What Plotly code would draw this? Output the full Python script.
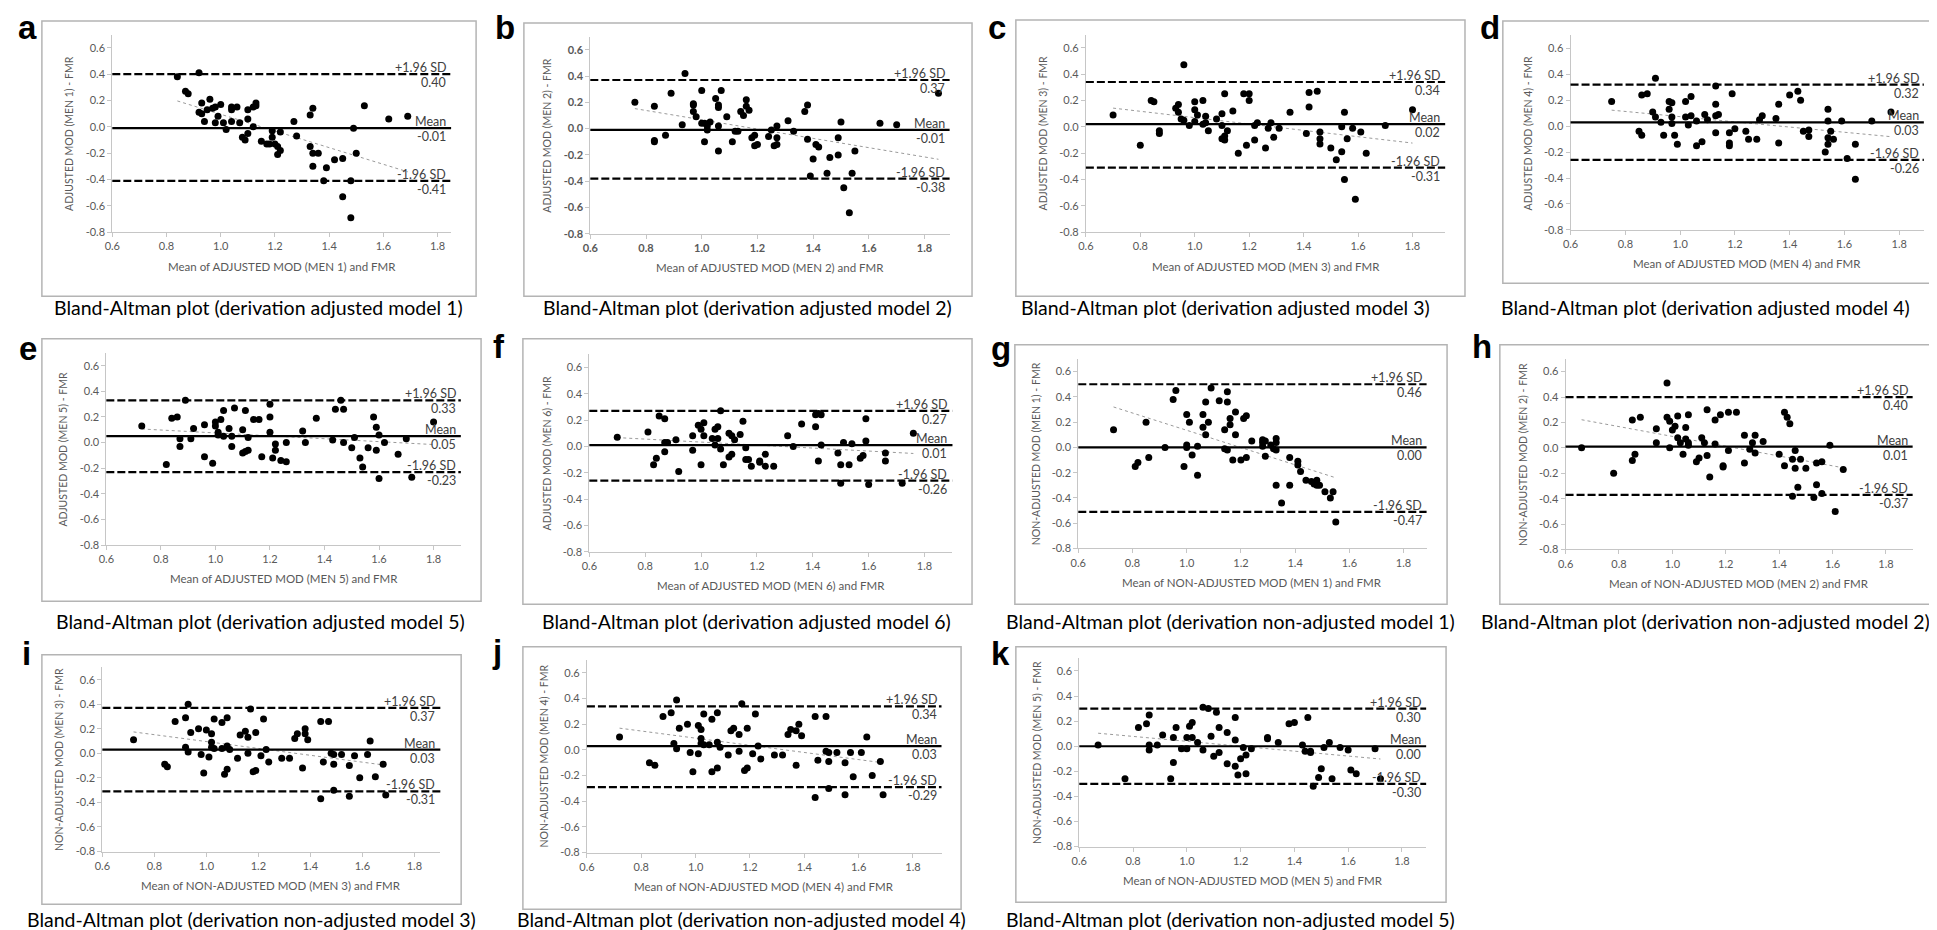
import numpy as np
import plotly.graph_objects as go

W, H = 1937, 930

# ---- data: (mean of methods, difference) ----
a_pts = [(0.84, 0.38), (0.92, 0.41), (0.87, 0.27), (0.88, 0.25), (0.92, 0.11), (0.93, 0.10), (0.93, 0.18),
         (0.94, 0.04), (0.95, 0.13), (0.96, 0.21), (0.97, 0.14), (0.98, 0.15), (1.00, 0.17), (0.99, 0.08),
         (0.98, 0.03), (1.01, 0.03), (1.02, -0.02), (1.04, 0.13), (1.04, 0.15), (1.04, 0.04), (1.06, 0.15),
         (1.07, 0.03), (1.08, -0.08), (1.09, -0.10), (1.10, 0.13), (1.10, 0.06), (1.10, -0.05), (1.12, 0.15),
         (1.13, 0.18), (1.13, 0.16), (1.12, 0.00), (1.15, -0.11), (1.17, -0.13), (1.18, -0.13), (1.19, -0.03),
         (1.19, -0.08), (1.20, -0.13), (1.21, -0.21), (1.21, -0.15), (1.22, -0.18), (1.22, -0.04), (1.27, 0.04),
         (1.28, -0.07), (1.33, 0.09), (1.34, 0.14), (1.33, -0.15), (1.34, -0.30), (1.34, -0.20), (1.36, -0.20),
         (1.38, -0.41), (1.39, -0.31), (1.42, -0.25), (1.45, -0.24), (1.45, -0.53), (1.48, -0.41), (1.49, -0.01),
         (1.50, -0.20), (1.48, -0.69), (1.53, 0.16), (1.62, 0.06), (1.69, 0.08)]
b_pts = [(0.76, 0.20), (0.83, 0.17), (0.83, -0.09), (0.83, -0.10), (0.87, -0.05), (0.89, 0.27), (0.93, 0.03),
         (0.94, 0.42), (0.97, 0.19), (0.97, 0.18), (0.97, 0.13), (0.98, 0.09), (1.00, 0.04), (1.00, 0.29),
         (1.01, 0.04), (1.01, -0.10), (1.02, -0.01), (1.03, 0.05), (1.02, 0.02), (1.05, 0.23), (1.06, 0.18),
         (1.06, 0.16), (1.06, 0.02), (1.06, -0.17), (1.07, 0.29), (1.09, 0.09), (1.11, -0.10), (1.12, -0.02),
         (1.13, -0.02), (1.14, 0.13), (1.15, 0.10), (1.16, 0.22), (1.16, 0.17), (1.17, 0.14), (1.19, -0.05),
         (1.18, -0.07), (1.19, -0.13), (1.20, -0.12), (1.24, -0.06), (1.25, -0.01), (1.26, -0.13), (1.27, -0.12),
         (1.27, 0.02), (1.27, -0.07), (1.31, 0.06), (1.33, -0.02), (1.37, 0.13), (1.38, 0.18), (1.38, -0.08),
         (1.39, -0.36), (1.40, -0.23), (1.41, -0.12), (1.42, -0.14), (1.45, -0.34), (1.46, -0.22), (1.49, -0.20),
         (1.49, -0.07), (1.50, 0.05), (1.51, -0.45), (1.54, -0.34), (1.55, -0.17), (1.53, -0.64), (1.64, 0.04),
         (1.70, 0.03), (1.85, 0.27)]
c_pts = [(0.70, 0.09), (0.80, -0.14), (0.84, 0.20), (0.85, 0.19), (0.87, -0.03), (0.87, -0.05), (0.93, 0.14),
         (0.94, 0.17), (0.94, 0.11), (0.95, 0.06), (0.96, 0.05), (0.96, 0.47), (0.98, 0.01), (1.00, 0.19),
         (1.00, 0.13), (1.00, 0.04), (1.01, 0.09), (1.03, 0.02), (1.03, 0.20), (1.04, 0.08), (1.04, 0.03),
         (1.05, -0.03), (1.08, 0.06), (1.10, 0.10), (1.10, 0.01), (1.10, -0.09), (1.11, -0.10), (1.11, -0.07),
         (1.11, 0.25), (1.12, -0.03), (1.14, 0.12), (1.16, -0.20), (1.18, 0.25), (1.19, -0.14), (1.20, 0.25),
         (1.20, 0.20), (1.22, -0.10), (1.22, 0.01), (1.23, 0.03), (1.26, -0.16), (1.27, -0.01), (1.28, 0.03),
         (1.29, -0.08), (1.31, -0.01), (1.35, 0.11), (1.41, -0.05), (1.42, 0.26), (1.42, 0.15), (1.45, 0.27),
         (1.46, -0.09), (1.46, -0.04), (1.46, -0.13), (1.50, -0.16), (1.52, -0.25), (1.54, -0.19), (1.55, 0.11),
         (1.54, 0.00), (1.55, -0.40), (1.56, -0.09), (1.58, -0.01), (1.59, -0.55), (1.61, -0.04), (1.63, -0.20),
         (1.70, 0.01), (1.80, 0.13)]
d_pts = [(0.75, 0.19), (0.85, -0.04), (0.86, -0.07), (0.86, 0.24), (0.88, 0.25), (0.90, 0.11), (0.91, 0.37),
         (0.91, 0.07), (0.93, 0.03), (0.94, -0.07), (0.96, 0.19), (0.96, 0.13), (0.97, 0.07), (0.97, 0.18),
         (0.97, 0.02), (0.98, -0.07), (0.99, -0.14), (1.02, 0.07), (1.02, 0.19), (1.03, 0.01), (1.04, 0.08),
         (1.04, 0.23), (1.06, 0.04), (1.06, -0.15), (1.08, -0.12), (1.09, 0.09), (1.10, 0.05), (1.13, -0.05),
         (1.13, 0.17), (1.13, 0.31), (1.13, 0.08), (1.14, 0.09), (1.18, -0.15), (1.18, -0.13), (1.18, -0.05),
         (1.19, 0.25), (1.20, -0.02), (1.24, -0.04), (1.25, -0.10), (1.28, -0.10), (1.29, 0.05), (1.30, 0.08),
         (1.35, 0.06), (1.36, -0.13), (1.36, 0.17), (1.40, 0.24), (1.43, 0.27), (1.44, 0.20), (1.45, -0.04),
         (1.47, -0.03), (1.47, -0.08), (1.53, -0.20), (1.54, 0.13), (1.54, 0.04), (1.54, -0.09), (1.54, -0.14),
         (1.55, -0.04), (1.56, -0.10), (1.59, 0.04), (1.61, -0.25), (1.64, -0.14), (1.64, -0.41), (1.70, 0.04),
         (1.77, 0.11)]
e_pts = [(0.73, 0.13), (0.82, -0.17), (0.84, 0.19), (0.86, 0.20), (0.87, -0.03), (0.87, 0.03), (0.89, 0.33),
         (0.91, 0.03), (0.92, 0.11), (0.96, 0.14), (0.96, -0.11), (0.99, -0.16), (1.00, 0.13), (1.00, 0.16),
         (1.01, 0.08), (1.01, 0.06), (1.02, 0.18), (1.03, 0.05), (1.03, 0.25), (1.05, 0.11), (1.06, 0.05),
         (1.06, -0.03), (1.07, 0.27), (1.10, 0.10), (1.10, -0.08), (1.11, 0.25), (1.11, -0.07), (1.12, -0.06),
         (1.12, 0.04), (1.14, 0.18), (1.16, 0.18), (1.17, -0.11), (1.20, 0.30), (1.20, 0.20), (1.20, 0.08),
         (1.21, -0.12), (1.22, -0.01), (1.22, -0.06), (1.24, -0.14), (1.26, -0.15), (1.26, 0.00), (1.32, 0.09),
         (1.33, 0.00), (1.37, 0.19), (1.43, 0.02), (1.44, 0.26), (1.46, 0.33), (1.47, 0.26), (1.47, 0.00),
         (1.50, -0.04), (1.51, 0.04), (1.53, -0.12), (1.54, -0.19), (1.56, -0.04), (1.58, 0.20), (1.59, 0.12),
         (1.59, -0.06), (1.60, 0.06), (1.60, -0.28), (1.62, 0.00), (1.67, -0.09), (1.70, 0.03), (1.72, -0.27),
         (1.80, 0.16)]
f_pts = [(0.70, 0.07), (0.81, 0.11), (0.83, -0.14), (0.84, -0.09), (0.85, 0.23), (0.87, 0.21), (0.87, 0.03),
         (0.87, -0.04), (0.88, 0.03), (0.91, 0.05), (0.92, -0.19), (0.97, -0.03), (0.97, 0.08), (0.99, 0.16),
         (1.00, -0.14), (1.00, 0.13), (1.01, 0.18), (1.01, 0.08), (1.04, 0.06), (1.05, 0.01), (1.05, 0.13),
         (1.06, 0.15), (1.06, 0.06), (1.07, -0.02), (1.07, 0.27), (1.08, -0.14), (1.10, -0.08), (1.10, 0.10),
         (1.11, 0.08), (1.11, -0.06), (1.12, 0.05), (1.14, 0.09), (1.15, 0.19), (1.16, -0.01), (1.16, -0.10),
         (1.17, -0.10), (1.18, -0.15), (1.21, -0.11), (1.21, -0.12), (1.23, -0.06), (1.23, -0.15), (1.26, -0.15),
         (1.31, 0.08), (1.33, 0.00), (1.36, 0.17), (1.41, 0.15), (1.41, 0.24), (1.42, 0.25), (1.43, 0.24),
         (1.42, -0.11), (1.43, 0.01), (1.49, -0.05), (1.50, -0.28), (1.50, -0.14), (1.51, 0.03), (1.53, -0.14),
         (1.54, 0.02), (1.57, -0.09), (1.58, -0.07), (1.59, 0.21), (1.59, 0.04), (1.60, -0.29), (1.66, -0.05),
         (1.66, -0.11), (1.72, -0.28), (1.76, 0.10)]
g_pts = [(0.73, 0.14), (0.81, -0.15), (0.82, -0.12), (0.85, 0.20), (0.86, -0.08), (0.92, 0.00), (0.95, 0.38),
         (0.96, 0.45), (0.99, -0.15), (1.00, 0.26), (1.00, 0.02), (1.00, 0.00), (1.01, 0.20), (1.02, -0.06),
         (1.04, -0.22), (1.04, 0.01), (1.06, 0.16), (1.06, 0.26), (1.07, 0.36), (1.07, 0.10), (1.08, 0.20),
         (1.09, 0.47), (1.12, 0.37), (1.14, 0.14), (1.14, -0.01), (1.15, -0.02), (1.15, 0.44), (1.15, 0.36),
         (1.16, 0.18), (1.16, 0.23), (1.17, -0.10), (1.18, 0.28), (1.18, 0.10), (1.20, -0.10), (1.21, 0.23),
         (1.22, 0.25), (1.22, -0.08), (1.24, 0.05), (1.28, 0.06), (1.28, 0.01), (1.28, 0.04), (1.29, 0.05),
         (1.29, -0.07), (1.31, 0.02), (1.32, -0.01), (1.33, 0.07), (1.33, 0.04), (1.33, -0.02), (1.33, -0.30),
         (1.35, -0.44), (1.38, -0.30), (1.38, -0.08), (1.41, -0.11), (1.41, -0.14), (1.42, -0.19), (1.44, -0.26),
         (1.46, -0.27), (1.47, -0.29), (1.48, -0.30), (1.48, -0.26), (1.49, -0.30), (1.51, -0.35), (1.54, -0.35),
         (1.53, -0.40), (1.55, -0.59)]
h_pts = [(0.66, 0.00), (0.78, -0.20), (0.85, -0.10), (0.85, 0.22), (0.86, -0.05), (0.88, 0.24), (0.94, 0.15),
         (0.94, 0.04), (0.98, 0.51), (0.98, 0.24), (0.99, 0.21), (0.99, 0.00), (1.00, 0.14), (1.01, 0.17),
         (1.02, 0.08), (1.02, 0.25), (1.03, 0.04), (1.04, -0.05), (1.05, 0.16), (1.05, 0.07), (1.06, 0.04),
         (1.06, 0.26), (1.06, 0.02), (1.09, -0.11), (1.10, -0.08), (1.11, 0.08), (1.12, 0.04), (1.13, -0.06),
         (1.13, 0.30), (1.14, -0.23), (1.16, 0.22), (1.16, 0.03), (1.18, 0.26), (1.19, -0.14), (1.19, -0.15),
         (1.21, -0.02), (1.21, 0.28), (1.24, 0.28), (1.27, 0.10), (1.27, -0.12), (1.29, -0.01), (1.30, 0.04),
         (1.31, -0.04), (1.31, 0.10), (1.34, 0.05), (1.40, -0.05), (1.42, 0.28), (1.42, -0.14), (1.43, 0.24),
         (1.44, 0.19), (1.45, -0.38), (1.45, -0.09), (1.46, -0.16), (1.46, -0.02), (1.47, -0.31), (1.48, -0.09),
         (1.50, -0.16), (1.53, -0.39), (1.54, -0.12), (1.54, -0.29), (1.56, -0.11), (1.56, -0.36), (1.59, 0.02),
         (1.61, -0.50), (1.64, -0.17)]
i_pts = [(0.72, 0.11), (0.84, -0.09), (0.85, -0.11), (0.88, 0.26), (0.92, 0.29), (0.92, 0.05), (0.93, 0.01),
         (0.93, 0.40), (0.94, 0.17), (0.97, 0.20), (0.98, -0.01), (0.99, -0.16), (1.00, 0.19), (1.01, -0.03),
         (1.02, 0.09), (1.02, 0.16), (1.02, 0.05), (1.03, 0.28), (1.03, 0.04), (1.06, 0.04), (1.06, 0.25),
         (1.07, -0.17), (1.08, 0.29), (1.08, -0.13), (1.08, 0.06), (1.09, 0.03), (1.12, -0.04), (1.13, 0.15),
         (1.15, 0.18), (1.16, 0.00), (1.16, 0.13), (1.17, 0.36), (1.18, -0.15), (1.19, -0.14), (1.19, 0.17),
         (1.21, -0.02), (1.22, 0.28), (1.23, 0.03), (1.24, -0.07), (1.29, -0.04), (1.32, -0.04), (1.34, 0.12),
         (1.35, 0.16), (1.37, -0.12), (1.38, 0.16), (1.38, 0.20), (1.39, 0.11), (1.44, 0.26), (1.44, -0.37),
         (1.45, -0.07), (1.47, 0.26), (1.48, 0.00), (1.49, -0.01), (1.49, -0.09), (1.49, -0.30), (1.52, -0.01),
         (1.55, -0.10), (1.55, -0.35), (1.57, -0.02), (1.59, -0.20), (1.62, -0.01), (1.63, 0.10), (1.65, -0.19),
         (1.68, -0.09), (1.69, -0.34)]
j_pts = [(0.72, 0.10), (0.83, -0.10), (0.85, -0.12), (0.88, 0.26), (0.91, 0.29), (0.92, 0.05), (0.93, 0.01),
         (0.93, 0.39), (0.94, 0.17), (0.97, 0.20), (0.98, -0.02), (0.99, -0.17), (1.01, 0.19), (1.01, -0.03),
         (1.02, 0.09), (1.02, 0.16), (1.02, 0.05), (1.03, 0.28), (1.03, 0.04), (1.05, 0.04), (1.06, 0.24),
         (1.06, -0.17), (1.08, 0.29), (1.08, -0.14), (1.08, 0.06), (1.09, 0.02), (1.12, -0.04), (1.13, 0.15),
         (1.14, 0.17), (1.16, -0.01), (1.16, 0.12), (1.17, 0.36), (1.18, -0.16), (1.19, -0.14), (1.19, 0.17),
         (1.21, -0.03), (1.22, 0.28), (1.23, 0.03), (1.24, -0.07), (1.29, -0.04), (1.32, -0.04), (1.34, 0.12),
         (1.35, 0.16), (1.37, -0.12), (1.37, 0.15), (1.38, 0.20), (1.39, 0.11), (1.44, 0.26), (1.44, -0.37),
         (1.45, -0.08), (1.48, 0.26), (1.48, -0.01), (1.49, -0.02), (1.49, -0.09), (1.49, -0.30), (1.52, -0.02),
         (1.55, -0.10), (1.55, -0.35), (1.57, -0.02), (1.58, -0.21), (1.61, -0.02), (1.63, 0.10), (1.65, -0.20),
         (1.68, -0.09), (1.69, -0.35)]
k_pts = [(0.67, 0.01), (0.77, -0.26), (0.82, 0.15), (0.85, 0.18), (0.86, 0.25), (0.86, 0.01), (0.86, -0.03),
         (0.89, 0.01), (0.91, 0.09), (0.94, -0.26), (0.95, -0.13), (0.95, 0.07), (0.96, 0.15), (0.98, -0.02),
         (1.00, -0.02), (1.00, 0.07), (1.01, 0.16), (1.02, 0.07), (1.02, 0.19), (1.04, 0.03), (1.06, 0.31),
         (1.06, -0.03), (1.08, 0.30), (1.09, 0.08), (1.10, -0.08), (1.11, 0.27), (1.12, -0.05), (1.12, 0.15),
         (1.15, -0.14), (1.15, 0.11), (1.18, 0.05), (1.18, -0.16), (1.18, 0.23), (1.19, -0.23), (1.20, -0.10),
         (1.21, -0.01), (1.22, -0.07), (1.22, -0.22), (1.24, -0.02), (1.30, 0.06), (1.30, 0.07), (1.34, 0.03),
         (1.38, 0.18), (1.40, 0.19), (1.43, 0.01), (1.44, -0.04), (1.45, 0.23), (1.46, -0.04), (1.46, -0.05),
         (1.47, -0.32), (1.49, -0.25), (1.50, -0.18), (1.51, -0.01), (1.53, 0.03), (1.54, -0.26), (1.57, -0.01),
         (1.60, -0.03), (1.61, -0.19), (1.63, -0.22), (1.70, -0.02), (1.72, -0.26)]

# limits of agreement as drawn, and the printed labels
upper = [0.40, 0.37, 0.34, 0.32, 0.33, 0.27, 0.50, 0.40, 0.37, 0.34, 0.30]
means = [-0.01, -0.01, 0.02, 0.03, 0.05, 0.01, 0.00, 0.01, 0.03, 0.03, 0.00]
lower = [-0.41, -0.38, -0.31, -0.26, -0.23, -0.26, -0.51, -0.37, -0.31, -0.29, -0.30]
upper_lbl = ["0.40", "0.37", "0.34", "0.32", "0.33", "0.27", "0.46", "0.40", "0.37", "0.34", "0.30"]
mean_lbl = ["-0.01", "-0.01", "0.02", "0.03", "0.05", "0.01", "0.00", "0.01", "0.03", "0.03", "0.00"]
lower_lbl = ["-0.41", "-0.38", "-0.31", "-0.26", "-0.23", "-0.26", "-0.47", "-0.37", "-0.31", "-0.29", "-0.30"]

letters = list("abcdefghijk")
methods = ["ADJUSTED MOD (MEN %d)" % m for m in range(1, 7)] + \
          ["NON-ADJUSTED MOD (MEN %d)" % m for m in range(1, 6)]
models = ["adjusted model %d" % m for m in range(1, 7)] + \
         ["non-adjusted model %d" % m for m in range(1, 6)]

x_ticks = [0.6, 0.8, 1.0, 1.2, 1.4, 1.6, 1.8]
y_ticks = [-0.8, -0.6, -0.4, -0.2, 0.0, 0.2, 0.4, 0.6]

panels = [a_pts, b_pts, c_pts, d_pts, e_pts, f_pts, g_pts, h_pts, i_pts, j_pts, k_pts]

# ---- pixel layout: x of 0.6 / 1.8, y of 0.6 / -0.8, axis end ----
geom = [
    (96.7, 423.3, 40.0, 225.7, 1.85),
    (576.7, 912.3, 42.0, 227.3, 1.89),
    (1074.3, 1402.3, 40.0, 225.7, 1.92),
    (1561.0, 1891.0, 40.7, 223.3, 1.89),
    (90.7, 419.3, 360.0, 540.7, 1.90),
    (575.7, 912.3, 361.7, 547.3, 1.90),
    (1066.7, 1393.3, 366.0, 544.0, 1.885),
    (1556.0, 1877.7, 366.0, 545.0, 1.90),
    (86.7, 400.0, 676.0, 849.0, 1.90),
    (573.3, 900.7, 669.3, 850.0, 1.905),
    (1067.7, 1391.7, 667.3, 844.0, 1.89),
]
boxes = [
    (26, 13, 462, 290), (510, 15, 960, 290), (1004, 12, 1455, 290), (1493, 13, 1936, 277),
    (26, 333, 467, 597), (509, 333, 960, 600), (1003, 339, 1437, 600), (1490, 339, 1925, 600),
    (26, 651, 447, 902), (509, 643, 949, 907), (1004, 643, 1436, 900),
]
# letter centre x, and y (None = hung from the top edge of the page)
letter_xy = [(12, None), (491, None), (985, None), (1480, None), (12, 343), (485, 341), (989, 343),
             (1472, 341), (11, 650), (483, 648), (989, 650)]
title_x = [244, 735, 1215, 1697, 246, 734, 1220, 1697, 236, 729, 1220]
title_y = [301] * 4 + [617] * 4 + [917] * 3

FONT = "Lato, Open Sans, sans-serif"
GREY = "#595959"
AXC = "#c6c6c6"

fig = go.Figure()
shapes, annos, axes = [], [], {}


def px(x):
    return x / W


def py(y):
    return 1 - y / H


def note(x, y, text, font, **kw):
    d = dict(xref="paper", yref="paper", x=x, y=y, text=text, showarrow=False,
             xanchor="center", yanchor="middle", font=font)
    d.update(kw)
    return d


for i, pts in enumerate(panels):
    n = i + 1
    sfx = "" if n == 1 else str(n)
    xs = np.array([p[0] for p in pts])
    ys = np.array([p[1] for p in pts])
    x06, x18, y06, ym08, xmax = geom[i]
    kx = (x18 - x06) / 1.2
    ky = (ym08 - y06) / 1.4
    left, right = x06, x06 + (xmax - 0.6) * kx
    top, bottom = y06 - 0.1 * ky, ym08

    # chart b was exported with bold tick numbers
    fmt = "<b>%.1f</b>" if letters[i] == "b" else "%.1f"
    axes["xaxis" + sfx] = dict(
        domain=[px(left), px(right)], range=[0.6, xmax], anchor="y" + sfx,
        tickvals=x_ticks, ticktext=[fmt % v for v in x_ticks],
        showline=True, linecolor=AXC, linewidth=1, ticks="outside", ticklen=4,
        tickcolor=AXC, showgrid=False, zeroline=False,
        tickfont=dict(family=FONT, size=11, color=GREY))
    axes["yaxis" + sfx] = dict(
        domain=[py(bottom), py(top)], range=[-0.8, 0.7], anchor="x" + sfx,
        tickvals=y_ticks, ticktext=[fmt % v for v in y_ticks],
        showline=True, linecolor=AXC, linewidth=1, ticks="outside", ticklen=4,
        tickcolor=AXC, showgrid=False, zeroline=False,
        tickfont=dict(family=FONT, size=11, color=GREY))

    # trend line (least squares through the points)
    slope, icpt = np.polyfit(xs, ys, 1)
    tx = np.array([xs.min(), xs.max()])
    fig.add_trace(go.Scatter(x=tx, y=slope * tx + icpt, mode="lines", xaxis="x" + sfx, yaxis="y" + sfx,
                             line=dict(color="#9a9a9a", width=1, dash="dot"), showlegend=False,
                             hoverinfo="skip"))
    fig.add_trace(go.Scatter(x=xs, y=ys, mode="markers", xaxis="x" + sfx, yaxis="y" + sfx,
                             marker=dict(color="black", size=7), showlegend=False))

    xd = "x%s domain" % sfx
    for val, dash in ((upper[i], "8px,3px"), (means[i], "solid"), (lower[i], "8px,3px")):
        shapes.append(dict(type="line", xref=xd, yref="y" + sfx, x0=0, x1=1, y0=val, y1=val,
                           line=dict(color="black", width=2.2, dash=dash), layer="above"))

    lab_font = dict(family=FONT, size=12.5, color="#404040")
    for val, above, below in ((upper[i], "+1.96 SD", upper_lbl[i]),
                              (means[i], "Mean", mean_lbl[i]),
                              (lower[i], "-1.96 SD", lower_lbl[i])):
        annos.append(dict(xref=xd, yref="y" + sfx, x=1, y=val, text=above, showarrow=False,
                          xanchor="right", yanchor="bottom", xshift=-3, yshift=-3, font=lab_font))
        annos.append(dict(xref=xd, yref="y" + sfx, x=1, y=val, text=below, showarrow=False,
                          xanchor="right", yanchor="top", xshift=-3, yshift=1, font=lab_font))

    # axis titles
    annos.append(note(px((left + right) / 2), py(bottom + 34), "Mean of %s and FMR" % methods[i],
                      dict(family=FONT, size=11.5, color=GREY)))
    annos.append(note(px(x06 - 43), py((top + bottom) / 2), "%s - FMR" % methods[i],
                      dict(family=FONT, size=10.5, color=GREY), textangle=-90))

    # frame, caption, panel letter
    bx0, by0, bx1, by1 = boxes[i]
    shapes.append(dict(type="rect", xref="paper", yref="paper", x0=px(bx0), x1=px(bx1),
                       y0=py(by1), y1=py(by0), line=dict(color="#b4b4b4", width=1.5)))
    annos.append(note(px(title_x[i]), py(title_y[i]),
                      "Bland-Altman plot (derivation %s)" % models[i],
                      dict(family=FONT, size=19.5, color="black")))
    lx, ly = letter_xy[i]
    lfont = dict(family="Liberation Sans, Arial", size=33, color="black")
    if ly is None:
        annos.append(note(px(lx), 1, "<b>%s</b>" % letters[i], lfont, yanchor="top", borderpad=0))
    else:
        annos.append(note(px(lx), py(ly), "<b>%s</b>" % letters[i], lfont))

fig.update_layout(width=W, height=H, margin=dict(l=0, r=0, t=0, b=0),
                  paper_bgcolor="white", plot_bgcolor="white",
                  shapes=shapes, annotations=annos, **axes)

fig.write_html("out.html")
